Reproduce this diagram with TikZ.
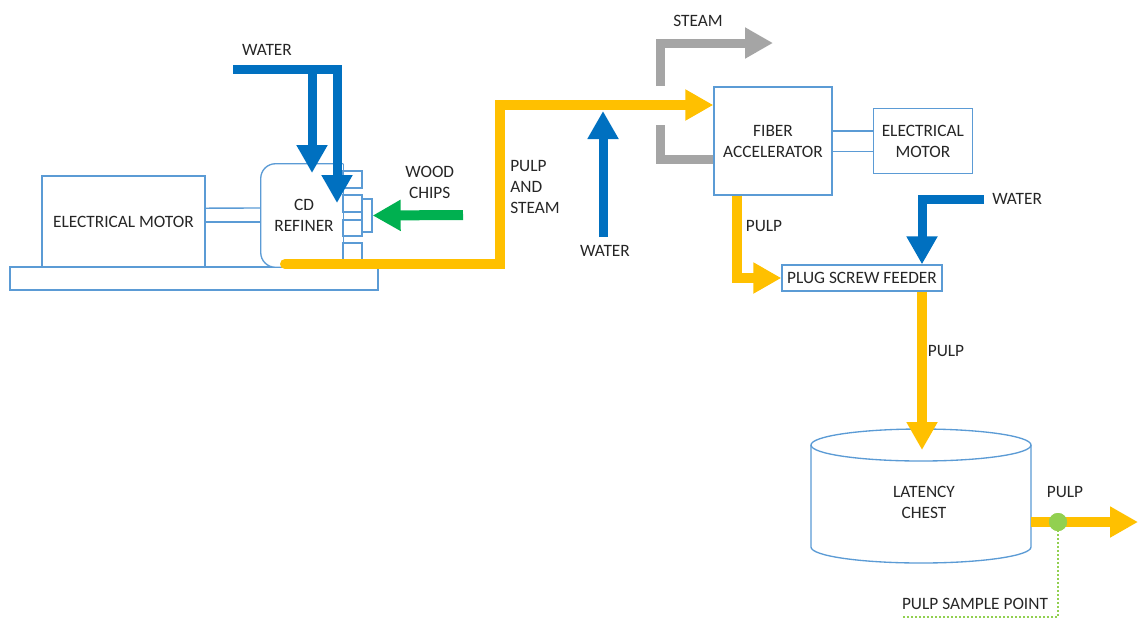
\documentclass[tikz,border=0pt]{standalone}
\usepackage{fontspec}
\setmainfont{Carlito}
\usetikzlibrary{arrows.meta,positioning}
\definecolor{FlowBlue}{HTML}{0070C0}
\definecolor{FlowGold}{HTML}{FFC000}
\definecolor{FlowGreen}{HTML}{00B050}
\definecolor{FlowGrey}{HTML}{A5A5A5}
\definecolor{FlowLine}{HTML}{5B9BD5}
\definecolor{FlowDot}{HTML}{92D050}
\definecolor{FlowText}{HTML}{262626}

\begin{document}
\begin{tikzpicture}[x=0.75pt,y=-0.75pt,>={Triangle[length=21pt,width=22pt]},
  every node/.style={text=FlowText,font=\fontsize{13}{15.75}\selectfont}]
  \tikzstyle{unit}=[draw=FlowLine,line width=1pt,fill=white,align=center,inner sep=0pt]
  \tikzstyle{outline}=[draw=FlowLine,line width=1pt]
  \tikzstyle{lbl}=[inner sep=0pt,align=center]
  \tikzstyle{water}=[draw=FlowBlue,line width=6.75pt]
  \tikzstyle{pulp}=[draw=FlowGold,line width=7.5pt]
  \tikzstyle{chips}=[draw=FlowGreen,line width=7.5pt]
  \tikzstyle{steam}=[draw=FlowGrey,line width=6.75pt]
  \tikzstyle{sample}=[draw=FlowDot,line width=1.5pt,dash pattern=on 1.5pt off 1.5pt]
  \useasboundingbox (0,0) rectangle (1138,619);

  % refiner and its motor
  \node[unit,minimum width=276pt,minimum height=17.25pt] (base) at (194,278.5) {};
  \node[unit,minimum width=122.25pt,minimum height=68.25pt] (motor) at (123.5,221.5) {ELECTRICAL MOTOR};
  \node[lbl,minimum width=61.5pt,minimum height=77.25pt] (refiner) at (302,215.5) {};
  \fill[white,rounded corners=11pt] (refiner.north east) -- (refiner.north west) -- (refiner.south west) -- (refiner.south east) -- cycle;
  \draw[outline,rounded corners=11pt] (refiner.north east) -- (refiner.north west) -- (refiner.south west) -- (refiner.south east);
  \draw[outline] (refiner.north east) -- (refiner.south east);
  \node[lbl] (rtext) at (304,215) {CD\\REFINER};
  \foreach \n/\y/\h in {1/179.5/17,2/203.5/17,3/228/16,4/255/24}
    \node[unit,minimum width=14.25pt,minimum height=\h*0.75pt] (p\n) at (352.5,\y) {};
  \node[unit,minimum width=7.5pt,minimum height=24.75pt] (feed) at (367,215.5) {};
  \draw[outline] ([yshift=10pt]motor.east) -- ([yshift=5.6pt]refiner.west);
  \draw[outline] ([yshift=-0.4pt]motor.east) -- ([yshift=-4.9pt]refiner.west);

  % fiber accelerator, feeder, chest
  \node[unit,minimum width=88.5pt,minimum height=81pt] (fa) at (773,141) {FIBER\\ACCELERATOR};
  \node[unit,minimum width=74.25pt,minimum height=48.75pt,right=30pt of fa] (fam) {ELECTRICAL\\MOTOR};
  \draw[outline] ([yshift=7.5pt]fa.east) -- ([yshift=7.5pt]fam.west);
  \draw[outline] ([yshift=-8pt]fa.east) -- ([yshift=-8pt]fam.west);
  \node[unit,minimum width=120pt,minimum height=19.5pt] (psf) at (862,278) {PLUG SCREW FEEDER};
  \draw[outline,fill=white] (811,445) -- (811,547) arc[start angle=180,end angle=360,x radius=82.5pt,y radius=12pt] -- (1031,445);
  \draw[outline] (921,445) ellipse[x radius=82.5pt,y radius=12pt];
  \node[lbl] (chest) at (924,502) {LATENCY\\CHEST};

  % flow lines
  \coordinate (wtop) at (233,69);
  \coordinate (win1) at (312,173);
  \coordinate (win2) at (337,203);
  \coordinate (wood) at (463,215);
  \coordinate (rout) at (285,264);
  \coordinate (riser) at (500,105);
  \coordinate (wup) at (603,237);
  \coordinate (wjoin) at (603,111);
  \coordinate (sbot) at (660,125);
  \coordinate (stop) at (660,86);
  \coordinate (sout) at (773,43);
  \coordinate (w3) at (984,199);
  \coordinate (chtop) at (922,450);
  \coordinate (cright) at (1031,522);
  \coordinate (pout) at (1138,522);
  \coordinate (spend) at (903,617);

  \draw[water,->] (wtop) -| (win2);
  \draw[water,->] (win1 |- wtop) -- (win1);
  \draw[chips,->] (wood) -- (feed.east);
  \draw[pulp,line cap=round,->] (rout) -| (riser) -- (riser -| fa.west);
  \draw[water,->] (wup) -- (wjoin);
  \draw[steam] ([yshift=-13.5pt]fa.west) -| (sbot);
  \draw[steam,->] (stop) |- (sout);
  \draw[pulp,->] ([xshift=-27pt]fa.south) |- (psf.west);
  \draw[water,->] (w3) -| ([xshift=45pt]psf.north);
  \draw[pulp,->] ([xshift=45pt]psf.south) -- (chtop);
  \draw[pulp,->] (cright) -- (pout);
  \node[circle,fill=FlowDot,minimum size=13.5pt,inner sep=0pt] (smp) at (1058,522) {};
  \draw[sample] (smp.center) |- (spend);
  \node[circle,fill=FlowDot,minimum size=13.5pt,inner sep=0pt] at (smp) {};

  % labels
  \node[lbl] (lw1) at (267,50) {WATER};
  \node[lbl,anchor=west] (lwood) at (405,182.5) {WOOD\\CHIPS};
  \node[lbl,align=left,anchor=west] (lps) at (510,186.5) {PULP\\AND\\STEAM};
  \node[lbl] (lw2) at (605,251) {WATER};
  \node[lbl] (lst) at (698,21) {STEAM};
  \node[lbl] (lp1) at (764,226) {PULP};
  \node[lbl,right=6pt of w3] (lw3) {WATER};
  \node[lbl] (lp2) at (946,351) {PULP};
  \node[lbl] (lp3) at (1065,492) {PULP};
  \node[lbl] (lsp) at (975,604) {PULP SAMPLE POINT};
\end{tikzpicture}
\end{document}
